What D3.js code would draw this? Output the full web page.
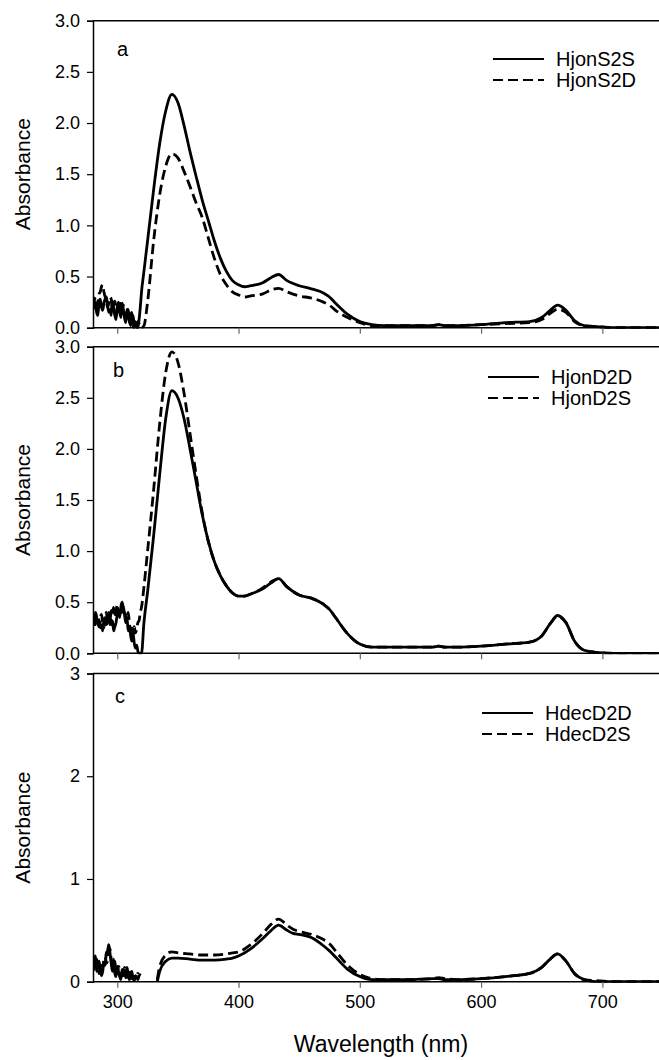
<!DOCTYPE html>
<html><head><meta charset="utf-8">
<script src="https://cdn.jsdelivr.net/npm/d3@7/dist/d3.min.js"></script>
<style>
body{margin:0;background:#fff;}
svg{display:block;font-family:Arial,"Liberation Sans",sans-serif;}
</style></head>
<body>
<svg id="chart" width="659" height="1060"></svg>
<script>
// ---------- DATA ----------
const waveNoise = [280,281,282,283,284,285,286,287,288,289,290,291,292,293,294,295,296,297,298,299,
  300,301,302,303,304,305,306,307,308,309,310,311,312,313,314,315,316,317,318,319];
const waveAB = waveNoise.concat([320,
  322,325,330,335,340,345,350,355,360,365,370,375,380,385,390,395,400,405,410,420,427,433,440,450,460,470,475,480,490,500,
  510,520,540,560,565,570,580,600,620,640,650,657,663,670,677,685,695,710,730,750]);

const hjonS2S = [0.18,0.25,0.22,0.15,0.12,0.25,0.28,0.20,0.17,0.24,
  0.28,0.30,0.22,0.15,0.18,0.12,0.26,0.20,0.12,0.08,
  0.20,0.25,0.15,0.10,0.24,0.18,0.10,0.05,0.18,0.14,
  0.05,0.12,0.15,0.02,0.00,0.06,0.03,0.00,0.08,0.20,
  0.35,
  0.55,0.85,1.35,1.80,2.12,2.28,2.20,1.98,1.72,1.48,1.25,1.05,0.85,0.68,0.55,0.46,0.42,0.40,0.41,0.44,0.49,0.52,0.46,0.41,0.38,0.34,0.30,0.24,0.13,0.06,
  0.03,0.02,0.02,0.02,0.03,0.02,0.02,0.03,0.05,0.06,0.10,0.17,0.22,0.17,0.07,0.02,0.01,0.00,0.00,0.00];
const hjonS2D = [0.20,0.26,0.30,0.22,0.25,0.33,0.35,0.40,0.42,0.35,
  0.30,0.26,0.20,0.24,0.30,0.28,0.18,0.22,0.26,0.20,
  0.15,0.24,0.26,0.12,0.16,0.22,0.10,0.08,0.14,0.18,
  0.08,0.02,0.10,0.12,0.02,0.00,0.00,0.06,0.04,0.00,
  0.00,
  0.02,0.25,0.85,1.30,1.58,1.70,1.66,1.53,1.38,1.22,1.08,0.88,0.68,0.52,0.42,0.35,0.32,0.30,0.31,0.33,0.37,0.385,0.35,0.31,0.29,0.25,0.22,0.17,0.10,0.05,
  0.02,0.02,0.02,0.02,0.03,0.02,0.02,0.03,0.04,0.05,0.08,0.14,0.18,0.15,0.06,0.02,0.01,0.00,0.00,0.00];

const hjonD2D = [0.30,0.36,0.28,0.35,0.30,0.33,0.25,0.28,0.22,0.32,
  0.35,0.28,0.30,0.40,0.38,0.28,0.32,0.22,0.26,0.30,
  0.38,0.42,0.35,0.45,0.40,0.46,0.38,0.30,0.35,0.22,
  0.25,0.18,0.12,0.20,0.10,0.05,0.08,0.02,0.00,0.00,
  0.00,
  0.30,0.60,1.15,1.75,2.30,2.57,2.50,2.30,2.00,1.68,1.36,1.10,0.90,0.76,0.66,0.59,0.56,0.56,0.58,0.63,0.69,0.73,0.65,0.57,0.54,0.48,0.43,0.35,0.19,0.09,
  0.06,0.06,0.06,0.06,0.07,0.06,0.06,0.07,0.09,0.11,0.17,0.29,0.37,0.30,0.12,0.03,0.01,0.00,0.00,0.00];
const hjonD2S = [0.35,0.28,0.40,0.36,0.30,0.26,0.35,0.38,0.30,0.25,
  0.34,0.40,0.32,0.36,0.28,0.42,0.38,0.45,0.35,0.40,
  0.48,0.42,0.38,0.46,0.50,0.44,0.40,0.36,0.32,0.40,
  0.30,0.22,0.28,0.18,0.26,0.20,0.24,0.30,0.32,0.40,
  0.45,
  0.65,1.00,1.60,2.25,2.75,2.95,2.85,2.55,2.15,1.75,1.38,1.10,0.90,0.76,0.66,0.59,0.56,0.56,0.58,0.64,0.70,0.73,0.65,0.57,0.54,0.48,0.43,0.35,0.19,0.09,
  0.06,0.06,0.06,0.06,0.07,0.06,0.06,0.07,0.09,0.11,0.17,0.29,0.36,0.30,0.12,0.03,0.01,0.00,0.00,0.00];

const waveC = waveNoise.concat([320,
  333,335,340,345,350,360,370,380,390,395,400,410,420,427,433,440,445,450,460,470,
  475,480,490,500,510,520,540,560,565,570,580,600,620,640,650,657,663,670,677,685,695,710,730,750]);
const hdecD2D = [0.15,0.22,0.25,0.10,0.14,0.20,0.12,0.06,0.10,0.18,
  0.16,0.28,0.30,0.36,0.28,0.18,0.10,0.22,0.08,0.05,
  0.15,0.10,0.05,0.02,0.12,0.06,0.10,0.04,0.14,0.08,
  0.02,0.06,0.10,0.03,0.01,0.05,0.04,0.02,0.06,null,
  null,
  0.00,0.10,0.20,0.23,0.23,0.22,0.21,0.21,0.22,0.23,0.25,0.32,0.42,0.50,0.55,0.50,0.47,0.46,0.43,0.35,
  0.30,0.24,0.12,0.05,0.02,0.02,0.02,0.03,0.03,0.02,0.02,0.03,0.05,0.08,0.14,0.22,0.27,0.20,0.08,0.02,0.00,0.00,0.00,0.00];
const hdecD2S = [0.20,0.12,0.18,0.22,0.15,0.08,0.12,0.18,0.14,0.22,
  0.25,0.18,0.20,0.30,0.32,0.22,0.14,0.18,0.20,0.10,
  0.08,0.15,0.12,0.04,0.10,0.06,0.14,0.08,0.04,0.10,
  0.12,0.05,0.03,0.08,0.02,0.06,0.04,0.08,0.06,0.08,
  null,
  0.02,0.15,0.26,0.29,0.28,0.27,0.26,0.26,0.27,0.28,0.29,0.36,0.47,0.56,0.61,0.55,0.51,0.49,0.46,0.41,
  0.37,0.30,0.16,0.07,0.03,0.02,0.02,0.03,0.04,0.03,0.02,0.03,0.05,0.08,0.14,0.22,0.27,0.20,0.08,0.02,0.01,0.00,0.00,0.00];

const xTicks = [300,400,500,600,700];
const yTicksAB = [0,0.5,1,1.5,2,2.5,3];
const yTicksC = [0,1,2,3];
const panelLabels = ["a","b","c"];
const legendA = ["HjonS2S","HjonS2D"];
const legendB = ["HjonD2D","HjonD2S"];
const legendC = ["HdecD2D","HdecD2S"];

// ---------- LAYOUT ----------
const svg = d3.select("#chart");
const W = 659;
const left = 93, right = 663;
const x = d3.scaleLinear().domain([280,750]).range([left,right]);

const panels = [
  {top:20.7, bottom:327.7, wave:waveAB, s:[hjonS2S,hjonS2D], ticks:yTicksAB, fmt:d3.format(".1f"), label:panelLabels[0], legend:legendA, lx:493, ly:59, lab:[117,56]},
  {top:346.7, bottom:653.3, wave:waveAB, s:[hjonD2D,hjonD2S], ticks:yTicksAB, fmt:d3.format(".1f"), label:panelLabels[1], legend:legendB, lx:488, ly:377, lab:[113,377]},
  {top:673.5, bottom:981.7, wave:waveC, s:[hdecD2D,hdecD2S], ticks:yTicksC, fmt:d3.format("d"), label:panelLabels[2], legend:legendC, lx:482, ly:713, lab:[115,703]}
];

panels.forEach((p,i)=>{
  const y = d3.scaleLinear().domain([0,3]).range([p.bottom,p.top]);
  const g = svg.append("g");
  const cid = "clip"+i;
  svg.append("clipPath").attr("id",cid).append("rect")
    .attr("x",left).attr("y",p.top-3).attr("width",W-left).attr("height",p.bottom-p.top+4);

  const line = d3.line()
    .defined(d=>d[1]!=null)
    .x(d=>x(d[0])).y(d=>y(d[1]))
    .curve(d3.curveMonotoneX);
  p.s.forEach((vals,k)=>{
    const pts = p.wave.map((w,j)=>[w,vals[j]]);
    g.append("path").attr("d",line(pts))
      .attr("clip-path",`url(#${cid})`)
      .attr("fill","none").attr("stroke","#000").attr("stroke-width",2.8)
      .attr("stroke-linejoin","round")
      .attr("stroke-dasharray",k===1?"10,5":null);
  });

  const ya = d3.axisLeft(y).tickValues(p.ticks).tickFormat(p.fmt).tickSize(6).tickPadding(7);
  const yg = g.append("g").attr("transform",`translate(${left},0)`).call(ya);
  yg.select(".domain").attr("stroke-width",1.5);
  yg.selectAll(".tick line").attr("stroke-width",1.2);
  yg.selectAll("text").attr("font-size",18).attr("font-family","Arial, 'Liberation Sans', sans-serif").attr("fill","#000");

  const xa = d3.axisBottom(x).tickValues(xTicks).tickSize(6).tickPadding(8)
    .tickFormat(i===2?d3.format("d"):"");
  const xg = g.append("g").attr("transform",`translate(0,${p.bottom})`).call(xa);
  xg.select(".domain").attr("d",`M${left},0H${W}`).attr("stroke-width",1.5);
  xg.selectAll(".tick line").attr("stroke","#666").attr("stroke-width",1.2);
  xg.selectAll("text").attr("font-size",18).attr("font-family","Arial, 'Liberation Sans', sans-serif").attr("fill","#000");

  g.append("line").attr("x1",left).attr("x2",W).attr("y1",p.top).attr("y2",p.top)
    .attr("stroke","#000").attr("stroke-width",1.5);

  g.append("text").attr("x",p.lab[0]).attr("y",p.lab[1]).attr("font-size",20).text(p.label);

  p.legend.forEach((name,k)=>{
    const ly = p.ly + k*21;
    g.append("line").attr("x1",p.lx).attr("x2",p.lx+51).attr("y1",ly).attr("y2",ly)
      .attr("stroke","#000").attr("stroke-width",2.2)
      .attr("stroke-dasharray",k===1?"10,5":null);
    g.append("text").attr("x",p.lx+63).attr("y",ly+7).attr("font-size",20).text(name);
  });

  g.append("text").attr("transform",`translate(30,${(p.top+p.bottom)/2}) rotate(-90)`)
    .attr("text-anchor","middle").attr("font-size",21).text("Absorbance");
});

svg.append("text").attr("x",(left+W)/2+5).attr("y",1052).attr("text-anchor","middle")
  .attr("font-size",23).text("Wavelength (nm)");
</script>
</body></html>
